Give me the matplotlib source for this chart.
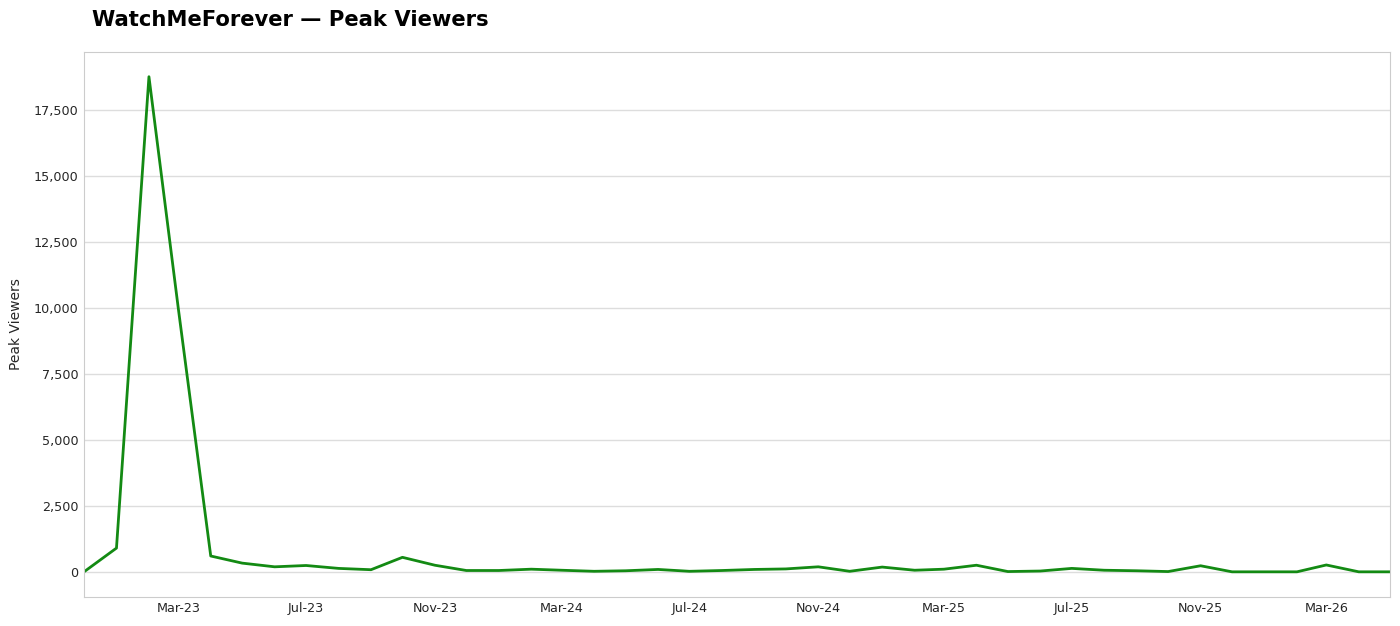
import numpy as np
import pandas as pd
import matplotlib
matplotlib.use('Agg')
import matplotlib.pyplot as plt
import matplotlib.dates as mdates
from matplotlib.ticker import FuncFormatter

# monthly peak viewers, Dec 2022 .. May 2026
months = pd.date_range('2022-12-01', '2026-05-01', freq='MS')
peak_viewers = [
    0, 900, 18780, 10000, 600, 330, 190, 240, 130, 80, 550, 250,
    50, 50, 100, 60, 20, 40, 90, 20, 50, 90, 110, 190,
    20, 180, 60, 100, 250, 10, 30, 130, 60, 40, 10, 230,
    0, 0, 0, 260, 0, 0,
]
title = 'WatchMeForever — Peak Viewers'
ylabel = 'Peak Viewers'

fig = plt.figure(figsize=(14, 6.26), dpi=100)
ax = fig.add_axes([0.06, 0.047, 0.933, 0.87])

ax.plot(months, peak_viewers, color='#138a13', lw=2)

ax.set_xlim(months[0], months[-1])
ax.margins(y=0.05)
ax.set_yticks(np.arange(0, 17501, 2500))
ax.yaxis.set_major_formatter(FuncFormatter(lambda v, p: f'{int(v):,}'))
ax.xaxis.set_major_locator(mdates.MonthLocator(bymonth=[3, 7, 11]))
ax.xaxis.set_major_formatter(mdates.DateFormatter('%b-%y'))

ax.grid(axis='y', color='#dddddd', lw=1)
ax.set_axisbelow(True)
for s in ax.spines.values():
    s.set_color('#cccccc')
ax.tick_params(length=0, labelsize=9.2, labelcolor='#262626', pad=4)
ax.set_ylabel(ylabel, fontsize=10, color='#262626')
ax.yaxis.set_label_coords(-0.047, 0.5)

fig.text(0.066, 0.968, title, fontsize=15.2, fontweight='bold', ha='left', va='center')

fig.savefig('out.png', dpi=100, facecolor='white')
